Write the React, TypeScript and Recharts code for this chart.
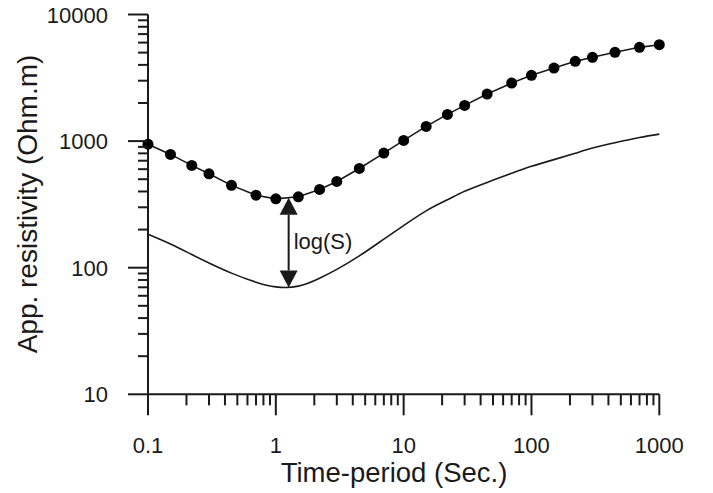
import React from 'react';
import { LineChart, Line, XAxis, YAxis, ReferenceLine } from 'recharts';

// time period (s), shared by both curves
const periods = [0.1, 0.15, 0.22, 0.3, 0.45, 0.7, 1, 1.5, 2.2, 3, 4.5, 7, 10, 15, 22, 30, 45, 70, 100, 150, 220, 300, 450, 700, 1000];
// apparent resistivity, dotted curve (Ohm.m)
const measured = [946, 785, 643, 552, 447, 374, 350, 363, 415, 480, 608, 804, 1013, 1307, 1625, 1915, 2353, 2874, 3306, 3773, 4265, 4588, 5027, 5503, 5770];
// apparent resistivity, plain curve (Ohm.m)
const shifted = [184, 154, 127, 109, 90.6, 76.8, 70.6, 71.5, 82.6, 97, 124, 168, 215, 281, 344, 402, 472, 557, 632, 714, 802, 881, 970, 1066, 1135];

const xMajor = [0.1, 1, 10, 100, 1000];
const yMajor = [10, 100, 1000, 10000];

// the log(S) arrow
const arrowPeriod = 1.26;
const arrowTop = 357;
const arrowBottom = 69.7;

const withMinors = (majors: number[]) => {
  const out: number[] = [];
  majors.forEach((m, i) => {
    out.push(m);
    if (i < majors.length - 1) for (let k = 2; k <= 9; k++) out.push(m * k);
  });
  return out;
};

const data = periods.map((x, i) => ({ x, measured: measured[i], shifted: shifted[i] }));

const FONT = '"Liberation Sans", Arial, sans-serif';
const INK = '#1a1a1a';

const XTick = ({ x, y, payload }: any) => {
  const major = xMajor.includes(payload.value);
  return (
    <g>
      <line x1={x} x2={x} y1={y} y2={y + (major ? 21 : 11)} stroke={INK} strokeWidth={2} />
      {major && (
        <text x={x} y={y + 59} textAnchor="middle" fontSize={22} fontFamily={FONT} fill={INK}>
          {payload.value}
        </text>
      )}
    </g>
  );
};

const YTick = ({ x, y, payload }: any) => {
  const major = yMajor.includes(payload.value);
  return (
    <g>
      <line x1={x} x2={x - (major ? 20 : 10)} y1={y} y2={y} stroke={INK} strokeWidth={2} />
      {major && (
        <text x={x - 40} y={y + 8} textAnchor="end" fontSize={22} fontFamily={FONT} fill={INK}>
          {payload.value}
        </text>
      )}
    </g>
  );
};

const Arrow = (p: any) => {
  const x = p.x1;
  const top = Math.min(p.y1, p.y2);
  const bottom = Math.max(p.y1, p.y2);
  const h = 17;
  const w = 9;
  return (
    <g>
      <line x1={x} x2={x} y1={top + h} y2={bottom - h} stroke={INK} strokeWidth={2} />
      <polygon points={`${x},${top} ${x - w},${top + h} ${x + w},${top + h}`} fill={INK} />
      <polygon points={`${x},${bottom} ${x - w},${bottom - h} ${x + w},${bottom - h}`} fill={INK} />
      <text x={x + 5} y={(top + bottom) / 2 + 6} fontSize={22} fontFamily={FONT} fill={INK}>
        log(S)
      </text>
    </g>
  );
};

export default function App() {
  return (
    <div style={{ position: 'absolute', left: 0, top: 0, background: '#fff' }}>
      <LineChart width={713} height={493} data={data} margin={{ top: 14.5, right: 53.7, bottom: 38.7, left: 0 }}>
        <XAxis
          dataKey="x"
          type="number"
          scale="log"
          domain={[0.1, 1000]}
          ticks={withMinors(xMajor)}
          interval={0}
          tickSize={0}
          tickMargin={0}
          tickLine={false}
          tick={<XTick />}
          height={60}
          axisLine={{ stroke: INK, strokeWidth: 2 }}
          label={() => (
            <text x={394} y={482} textAnchor="middle" fontSize={27.5} fontFamily={FONT} fill={INK}>
              Time-period (Sec.)
            </text>
          )}
        />
        <YAxis
          type="number"
          scale="log"
          domain={[10, 10000]}
          ticks={withMinors(yMajor)}
          interval={0}
          tickSize={0}
          tickMargin={0}
          tickLine={false}
          tick={<YTick />}
          width={148}
          axisLine={{ stroke: INK, strokeWidth: 2 }}
          label={() => (
            <text
              x={37}
              y={204}
              transform="rotate(-90 37 204)"
              textAnchor="middle"
              fontSize={28}
              fontFamily={FONT}
              fill={INK}
            >
              App. resistivity (Ohm.m)
            </text>
          )}
        />
        <Line
          dataKey="shifted"
          type="natural"
          stroke={INK}
          strokeWidth={1.6}
          dot={false}
          isAnimationActive={false}
        />
        <Line
          dataKey="measured"
          type="linear"
          stroke={INK}
          strokeWidth={1.6}
          dot={{ r: 5.5, fill: '#000', stroke: 'none' }}
          isAnimationActive={false}
        />
        <ReferenceLine
          segment={[
            { x: arrowPeriod, y: arrowTop },
            { x: arrowPeriod, y: arrowBottom },
          ]}
          shape={Arrow}
        />
      </LineChart>
    </div>
  );
}
